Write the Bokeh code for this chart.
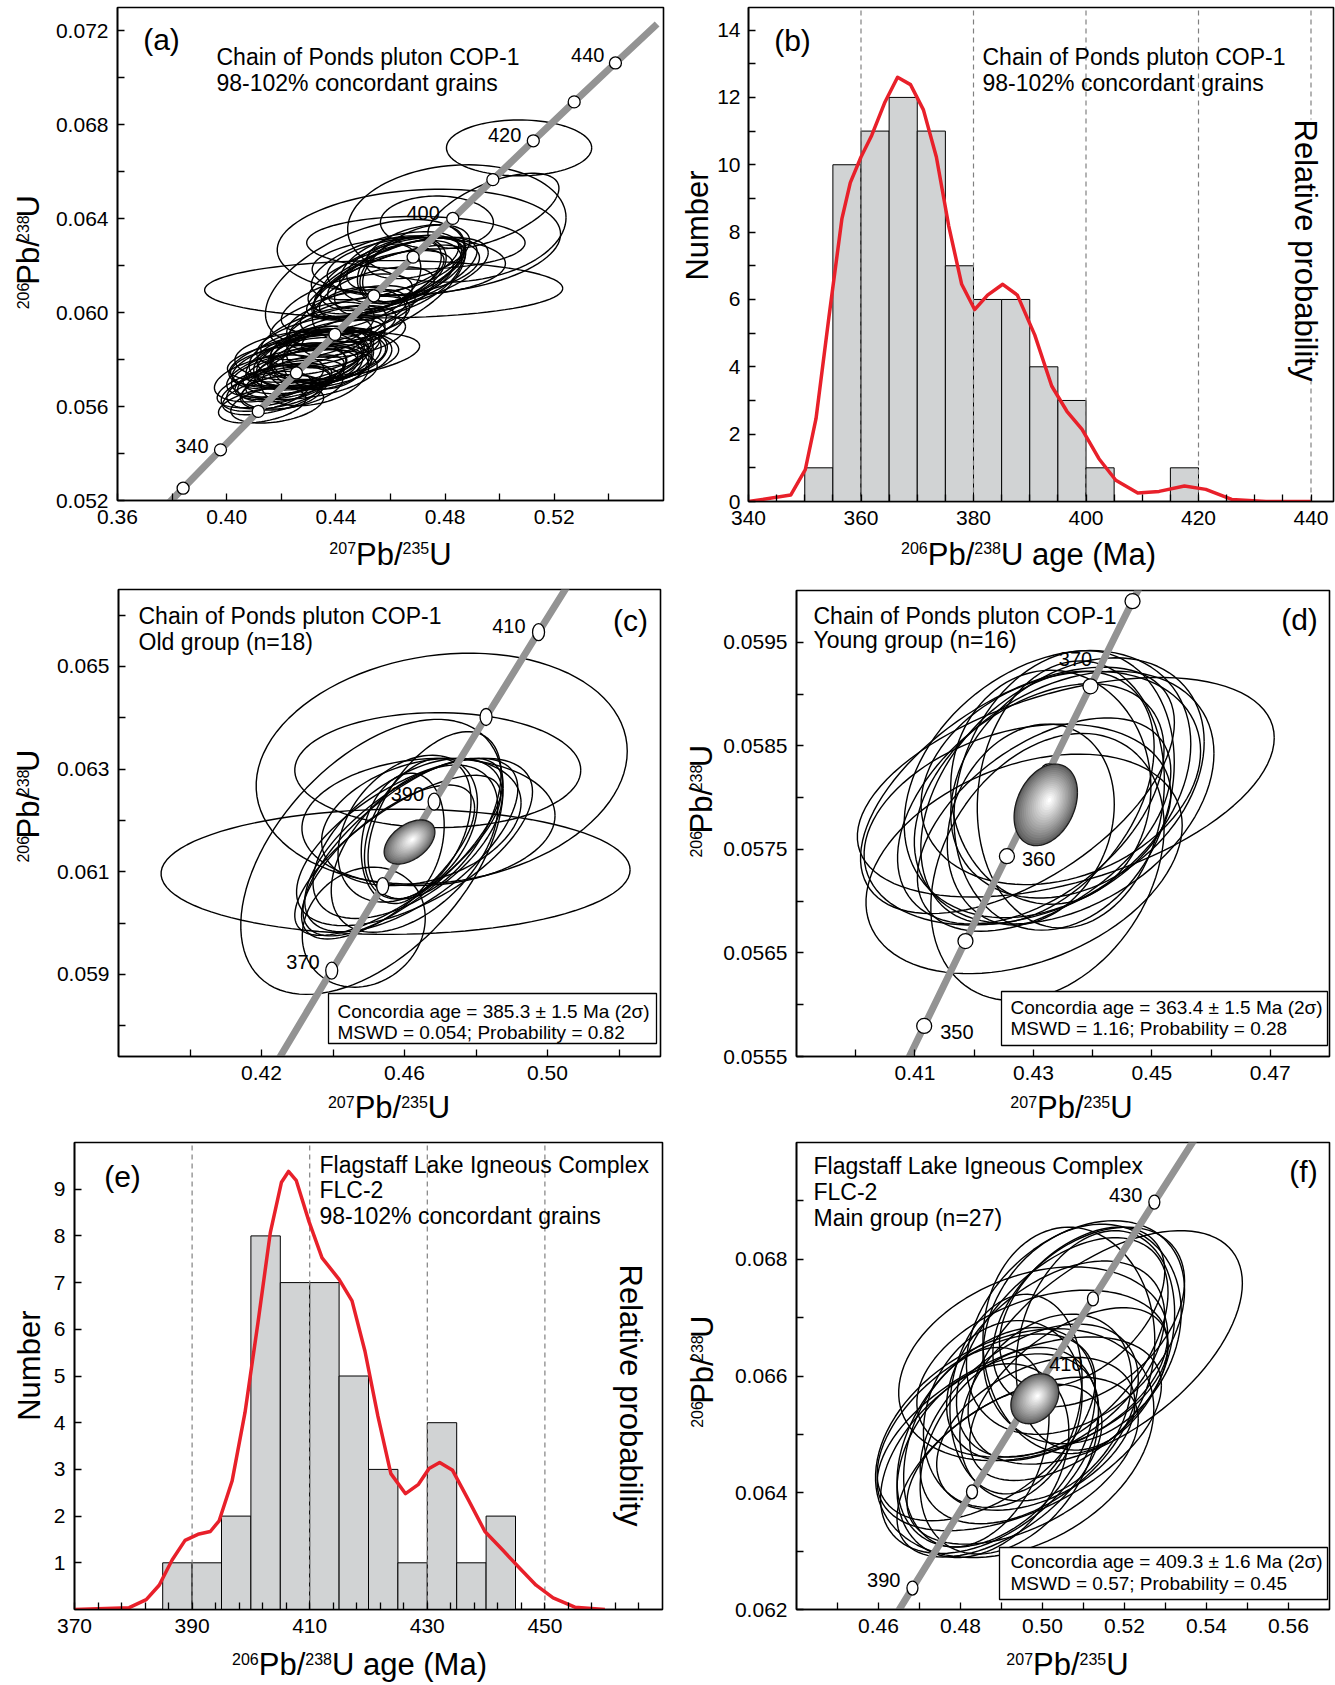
import numpy as np
from bokeh.plotting import figure
from bokeh.models import Range1d, FixedTicker, Label, BoxAnnotation, PrintfTickFormatter
from bokeh.layouts import column, row
from bokeh.embed import file_html
from bokeh.resources import INLINE

FONT = "Liberation Sans"
BAND = "#939393"
BAR_FILL = "#d1d3d4"
RED = "#e8202a"

# ---------------- concordia (age, 207Pb/235U, 206Pb/238U) ----------------
conc_age = [320, 330, 340, 345, 350, 355, 360, 365, 370, 375, 380, 390, 400, 410, 420, 430, 440, 450]
conc_r207 = [0.37047, 0.38403, 0.39773, 0.40463, 0.41156, 0.41853, 0.42553, 0.43257, 0.43964, 0.44674,
             0.45389, 0.46828, 0.48281, 0.49749, 0.51231, 0.52728, 0.54239, 0.55766]
conc_r206 = [0.050893, 0.052524, 0.054158, 0.054976, 0.055795, 0.056615, 0.057434, 0.058254, 0.059075, 0.059897,
             0.060720, 0.062367, 0.064016, 0.065668, 0.067322, 0.068979, 0.070638, 0.072300]

# ---------------- COP-1 old group (n=18): x, y, half-extent x, half-extent y, rho ----------------
old_x = [0.4704, 0.4693, 0.4575, 0.4509, 0.4486, 0.4595, 0.4667, 0.4628, 0.4619, 0.4609, 0.4628, 0.4647,
         0.4609, 0.4595, 0.4637, 0.4581, 0.4684, 0.4554]
old_y = [0.06301, 0.06298, 0.06100, 0.06129, 0.05992, 0.06148, 0.06197, 0.06158, 0.06152, 0.06165, 0.06145,
         0.06197, 0.06184, 0.06165, 0.06184, 0.06132, 0.06210, 0.06119]
old_sx = [0.0519, 0.0400, 0.0656, 0.0367, 0.0172, 0.0279, 0.0354, 0.0330, 0.0298, 0.0265, 0.0233, 0.0279,
          0.0195, 0.0116, 0.0149, 0.0288, 0.0186, 0.0242]
old_sy = [0.00225, 0.00112, 0.00122, 0.00268, 0.00117, 0.00173, 0.00124, 0.00163, 0.00169, 0.00156, 0.00163,
          0.00124, 0.00143, 0.00127, 0.00137, 0.00156, 0.00163, 0.00150]
old_r = [0.15, 0.0, 0.03, 0.5, 0.15, 0.72, 0.1, 0.6, 0.65, 0.55, 0.5, 0.3, 0.35, 0.2, 0.4, 0.75, 0.5, 0.7]
old_conc = (0.4614, 0.06158, 0.0071, 0.00043, 0.45)

# ---------------- COP-1 young group (n=16) ----------------
yng_x = [0.43547, 0.42731, 0.42843, 0.43519, 0.43238, 0.43069, 0.43463, 0.42956, 0.43632, 0.43181, 0.42731,
         0.43294, 0.43238, 0.43519, 0.42956, 0.43744]
yng_y = [0.05810, 0.05774, 0.05736, 0.05807, 0.05813, 0.05800, 0.05819, 0.05794, 0.05803, 0.05774, 0.05807,
         0.05810, 0.05733, 0.05800, 0.05774, 0.05819]
yng_sx = [0.0352, 0.0259, 0.0267, 0.0186, 0.0242, 0.0197, 0.0236, 0.0225, 0.0158, 0.0214, 0.0265, 0.0169,
          0.0197, 0.0253, 0.0141, 0.0214]
yng_sy = [0.00106, 0.00097, 0.00106, 0.00135, 0.00129, 0.00122, 0.00103, 0.00116, 0.00129, 0.00103, 0.00119,
          0.00113, 0.00129, 0.00122, 0.00097, 0.00116]
yng_r = [0.45, 0.3, 0.35, 0.2, 0.3, 0.4, 0.25, 0.45, 0.1, 0.5, 0.55, 0.0, 0.3, 0.35, 0.2, 0.3]
yng_conc = (0.43209, 0.05793, 0.00535, 0.000394, 0.3)

# ---------------- COP-1 remaining concordant grains (shown in panel a) ----------------
oth_x = [0.4130, 0.4165, 0.4190, 0.4210, 0.4175, 0.4230, 0.4200, 0.4250, 0.4155, 0.4270, 0.4220, 0.4185, 0.4290,
         0.4240, 0.4260, 0.4145, 0.4340, 0.4370, 0.4400, 0.4355, 0.4420, 0.4390, 0.4450, 0.4320, 0.4410, 0.4465,
         0.4380, 0.4330, 0.4480, 0.4440, 0.4550, 0.4600, 0.4650, 0.4700, 0.4580, 0.4770, 0.4843, 0.4977, 0.5071]
oth_y = [0.05605, 0.05650, 0.05680, 0.05700, 0.05690, 0.05715, 0.05660, 0.05730, 0.05720, 0.05750, 0.05745,
         0.05610, 0.05770, 0.05680, 0.05785, 0.05665, 0.05830, 0.05870, 0.05900, 0.05915, 0.05935, 0.05850,
         0.05965, 0.05880, 0.05980, 0.05900, 0.05950, 0.05820, 0.06010, 0.06040, 0.06080, 0.06140, 0.06210,
         0.06260, 0.06200, 0.06384, 0.06380, 0.06434, 0.06702]
oth_sx = [0.0160, 0.0180, 0.0190, 0.0170, 0.0210, 0.0200, 0.0150, 0.0180, 0.0200, 0.0210, 0.0220, 0.0170, 0.0190,
          0.0185, 0.0240, 0.0165, 0.0190, 0.0210, 0.0180, 0.0230, 0.0200, 0.0170, 0.0220, 0.0210, 0.0250, 0.0190,
          0.0160, 0.0300, 0.0210, 0.0240, 0.0210, 0.0230, 0.0210, 0.0190, 0.0270, 0.0207, 0.0400, 0.0240, 0.0266]
oth_sy = [0.00075, 0.00085, 0.00090, 0.00080, 0.00095, 0.00085, 0.00075, 0.00090, 0.00100, 0.00095, 0.00105,
          0.00080, 0.00085, 0.00090, 0.00110, 0.00085, 0.00095, 0.00100, 0.00090, 0.00115, 0.00095, 0.00085,
          0.00105, 0.00105, 0.00120, 0.00090, 0.00095, 0.00110, 0.00105, 0.00125, 0.00115, 0.00125, 0.00120,
          0.00115, 0.00145, 0.00113, 0.00250, 0.00160, 0.00119]
oth_r = [0.4, 0.5, 0.45, 0.35, 0.55, 0.5, 0.3, 0.6, 0.4, 0.45, 0.5, 0.35, 0.55, 0.4, 0.5, 0.45, 0.5, 0.55, 0.45,
         0.6, 0.5, 0.4, 0.55, 0.5, 0.6, 0.45, 0.35, 0.2, 0.5, 0.55, 0.5, 0.5, 0.45, 0.4, 0.55, 0.0, 0.1, 0.6, 0.0]

# ---------------- FLC-2 main group (n=27) ----------------
flc_x = [0.51530, 0.49773, 0.50805, 0.50966, 0.50643, 0.51127, 0.50482, 0.51288, 0.50321, 0.50966, 0.50643,
         0.49998, 0.49321, 0.48709, 0.49434, 0.48870, 0.49192, 0.48547, 0.49676, 0.49031, 0.49515, 0.48386,
         0.49837, 0.48950, 0.49354, 0.48628, 0.50079]
flc_y = [0.06649, 0.06621, 0.06683, 0.06672, 0.06661, 0.06701, 0.06649, 0.06661, 0.06626, 0.06718, 0.06569,
         0.06604, 0.06485, 0.06467, 0.06501, 0.06495, 0.06472, 0.06455, 0.06518, 0.06535, 0.06455, 0.06478,
         0.06501, 0.06438, 0.06569, 0.06512, 0.06546]
flc_sx = [0.03345, 0.03281, 0.0266, 0.02418, 0.02096, 0.02338, 0.0258, 0.01935, 0.0266, 0.02015, 0.02418,
          0.03063, 0.03394, 0.0266, 0.03466, 0.02418, 0.02177, 0.02096, 0.0266, 0.01935, 0.02821, 0.01773,
          0.02418, 0.02499, 0.01612, 0.0266, 0.02096]
flc_sy = [0.00200, 0.00166, 0.00183, 0.00188, 0.00194, 0.00154, 0.00188, 0.00188, 0.00171, 0.00137, 0.00148,
          0.00143, 0.00196, 0.00171, 0.00166, 0.00188, 0.00177, 0.00166, 0.00171, 0.00160, 0.00143, 0.00171,
          0.00131, 0.00148, 0.00171, 0.00160, 0.00160]
flc_r = [0.55, 0.3, 0.35, 0.2, 0.0, 0.4, 0.5, 0.25, 0.45, 0.45, 0.55, 0.35, 0.3, 0.45, 0.5, 0.4, 0.35, 0.3,
         0.45, 0.2, 0.5, 0.3, 0.4, 0.55, 0.15, 0.5, 0.3]
flc_conc = (0.49813, 0.06561, 0.00584, 0.000428, 0.25)

# ---------------- histograms ----------------
bins_b = [350, 355, 360, 365, 370, 375, 380, 385, 390, 395, 400, 405, 410, 415]
count_b = [1, 10, 11, 12, 11, 7, 6, 6, 4, 3, 1, 0, 0, 1]
prob_b_age = [340, 347.5, 350.1, 352.0, 354.3, 356.6, 358.1, 360.0, 361.9, 364.2, 366.5, 368.8, 371.1, 373.4,
              375.6, 377.9, 380.2, 382.5, 385.2, 387.8, 390.9, 393.9, 396.6, 399.3, 402.3, 405.3, 409.2, 413.0,
              417.5, 421.3, 425.9, 432.0, 440.0]
prob_b_val = [0, 0.19, 0.95, 2.46, 5.48, 8.39, 9.47, 10.23, 10.87, 11.84, 12.6, 12.38, 11.63, 10.23, 8.18, 6.45,
              5.70, 6.13, 6.45, 6.13, 4.94, 3.43, 2.68, 2.14, 1.27, 0.63, 0.25, 0.30, 0.46, 0.36, 0.06, 0, 0]
dash_b = [360, 380, 400, 420, 440]

bins_e = [385, 390, 395, 400, 405, 410, 415, 420, 425, 430, 435, 440]
count_e = [1, 1, 2, 8, 7, 7, 5, 3, 1, 4, 1, 2]
prob_e_age = [370, 379.3, 382.2, 384.4, 386.6, 388.8, 391.0, 393.1, 394.6, 396.8, 399.0, 401.2, 403.3, 405.2,
              406.4, 407.7, 409.9, 412.1, 415.0, 417.2, 419.4, 421.6, 423.8, 426.3, 428.5, 430.3, 432.1, 434.3,
              436.9, 439.8, 442.7, 445.6, 448.5, 451.4, 455.1, 460.2]
prob_e_val = [0, 0.04, 0.21, 0.52, 1.06, 1.48, 1.61, 1.67, 1.90, 2.75, 4.22, 6.14, 8.07, 9.15, 9.38, 9.19, 8.30,
              7.53, 7.07, 6.61, 5.53, 4.14, 2.91, 2.48, 2.68, 3.02, 3.15, 2.98, 2.37, 1.67, 1.29, 0.90, 0.52,
              0.25, 0.05, 0]
dash_e = [390, 410, 430, 450]

# axis titles: (text, is_superscript)
P207 = [("207", True), ("Pb/", False), ("235", True), ("U", False)]
P206 = [("206", True), ("Pb/", False), ("238", True), ("U", False)]
PAGE = [("206", True), ("Pb/", False), ("238", True), ("U age (Ma)", False)]

ADV = {'0': .556, '1': .556, '2': .556, '3': .556, '4': .556, '5': .556, '6': .556, '7': .556, '8': .556,
       '9': .556, 'P': .667, 'b': .556, '/': .278, 'U': .722, ' ': .278, 'a': .556, 'g': .556, 'e': .556,
       '(': .333, ')': .333, 'M': .833}
MAIN, SUP, LIFT = 31, 16, 11


# ---------------- helpers ----------------
def base_fig(w, h, bl, br, bt, bb, g):
    p = figure(width=w, height=h, x_range=Range1d(*g['x']), y_range=Range1d(*g['y']),
               toolbar_location=None, output_backend="svg", title=None,
               min_border_left=bl, min_border_right=br, min_border_top=bt, min_border_bottom=bb)
    p.grid.visible = False
    p.outline_line_color = "black"
    p.outline_line_width = 1.6
    p.outline_line_alpha = 1.0
    p.background_fill_color = "white"
    p.border_fill_color = "white"
    for ax in (p.xaxis[0], p.yaxis[0]):
        ax.axis_line_color = "black"
        ax.axis_line_width = 1.6
        ax.major_tick_in = 7
        ax.major_tick_out = 0
        ax.minor_tick_in = 7
        ax.minor_tick_out = 0
        ax.major_tick_line_width = 1.3
        ax.minor_tick_line_width = 1.3
        ax.major_tick_line_color = "black"
        ax.minor_tick_line_color = "black"
        ax.major_label_text_font = FONT
        ax.major_label_text_font_size = "21px"
        ax.major_label_text_color = "black"
        ax.major_label_standoff = 9
    return p


def blank_fig(w, h):
    p = figure(width=w, height=h, x_range=Range1d(0, w), y_range=Range1d(0, h),
               toolbar_location=None, output_backend="svg", title=None, min_border=0,
               x_axis_location=None, y_axis_location=None)
    p.grid.visible = False
    p.outline_line_color = None
    p.background_fill_color = "white"
    p.border_fill_color = "white"
    return p


def set_ticks(p, xt, xm, yt, ym, xf, yf):
    p.xaxis[0].ticker = FixedTicker(ticks=xt, minor_ticks=xm)
    p.yaxis[0].ticker = FixedTicker(ticks=yt, minor_ticks=ym)
    p.xaxis[0].formatter = PrintfTickFormatter(format=xf)
    p.yaxis[0].formatter = PrintfTickFormatter(format=yf)


def label(p, x, y, s, size, dx=0, dy=0, align="left", baseline="middle", angle=0.0, bg=None):
    kw = {}
    if bg is not None:
        kw["background_fill_color"] = bg
    p.add_layout(Label(x=x, y=y, x_offset=dx, y_offset=dy, text=s, text_font=FONT,
                       text_font_size=f"{size}px", text_color="black", text_align=align,
                       text_baseline=baseline, angle=angle, **kw))


def ftext(p, g, s, size, dx, dy, corner="tl", **kw):
    x = g['x'][0] if corner in ("tl", "bl") else g['x'][1]
    y = g['y'][1] if corner in ("tl", "tr") else g['y'][0]
    off = -dy if corner in ("tl", "tr") else dy
    label(p, x, y, s, size, dx=dx, dy=off, **kw)


def tw(s, size):
    return sum(ADV[c] for c in s) * size


def mid_shift(size, sup):
    # distance from the main baseline up to the em-box middle of the piece
    return (LIFT if sup else 0) + 0.3465 * size


def comp_h(p, parts, cx, base_y):
    widths = [tw(t, SUP if sup else MAIN) for t, sup in parts]
    x = cx - sum(widths) / 2.0
    for (t, sup), w in zip(parts, widths):
        size = SUP if sup else MAIN
        label(p, x, base_y + mid_shift(size, sup), t, size, baseline="middle")
        x += w


def comp_v(p, parts, base_x, cy):
    widths = [tw(t, SUP if sup else MAIN) for t, sup in parts]
    y = cy - sum(widths) / 2.0
    for (t, sup), w in zip(parts, widths):
        size = SUP if sup else MAIN
        label(p, base_x - mid_shift(size, sup), y, t, size, baseline="middle", angle=np.pi / 2)
        y += w


def ell_xy(x, y, sx, sy, r, n=100):
    t = np.linspace(0, 2 * np.pi, n)
    return (x + sx * np.cos(t)).tolist(), (y + sy * (r * np.cos(t) + np.sqrt(1 - r * r) * np.sin(t))).tolist()


def draw_ellipses(p, X, Y, SX, SY, R):
    xs, ys = [], []
    for a in zip(X, Y, SX, SY, R):
        ex, ey = ell_xy(*a)
        xs.append(ex)
        ys.append(ey)
    p.multi_line(xs, ys, line_color="black", line_width=1.4)


def draw_concordia(p, ages, shape):
    p.line(conc_r207, conc_r206, line_color=BAND, line_width=7, line_cap="butt")
    mx = [conc_r207[conc_age.index(a)] for a in ages]
    my = [conc_r206[conc_age.index(a)] for a in ages]
    if shape[0] == "circle":
        p.scatter(mx, my, size=shape[1], fill_color="white", line_color="black", line_width=1.3)
    else:
        p.ellipse(x=mx, y=my, width=shape[1], height=shape[2], width_units="screen", height_units="screen",
                  fill_color="white", line_color="black", line_width=1.3)


def conc_labels(p, specs):
    for age, dx, dy, align in specs:
        i = conc_age.index(age)
        label(p, conc_r207[i], conc_r206[i], str(age), 20, dx=dx, dy=dy, align=align)


def shaded(p, x, y, sx, sy, r):
    n = 18
    hx, hy = x + 0.12 * sx, y + 0.12 * sy
    xs, ys, cols = [], [], []
    for k in range(n):
        f = 1.0 - k / n
        cx = hx + (x - hx) * f
        cy = hy + (y - hy) * f
        ex, ey = ell_xy(cx, cy, sx * f, sy * f, r)
        xs.append(ex)
        ys.append(ey)
        gval = int(92 + (255 - 92) * (k / (n - 1)) ** 0.85)
        cols.append("#%02x%02x%02x" % (gval, gval, gval))
    p.patches(xs, ys, fill_color=cols, line_color=None)
    ex, ey = ell_xy(x, y, sx, sy, r)
    p.line(ex, ey, line_color="#1a1a1a", line_width=1.3)


def fbox(p, g, l, r, t, b):
    x0, x1 = g['x']
    y0, y1 = g['y']
    p.add_layout(BoxAnnotation(left=x0 + (x1 - x0) * l / g['w'], right=x0 + (x1 - x0) * r / g['w'],
                               top=y1 - (y1 - y0) * t / g['h'], bottom=y1 - (y1 - y0) * b / g['h'],
                               fill_color="white", fill_alpha=1.0, line_color="black", line_width=1.3,
                               line_alpha=1.0))


def cell(yw, hm, total_w, total_h):
    return blank_fig(yw, hm), blank_fig(total_w, total_h - hm)


# ================= (a) =================
GA = dict(x=(0.36, 0.56), y=(0.052, 0.073), w=546, h=493)
pa = base_fig(632, 536, 69, 17, 7, 36, GA)
set_ticks(pa, [0.36, 0.40, 0.44, 0.48, 0.52], [0.38, 0.42, 0.46, 0.50, 0.54],
          [0.052, 0.056, 0.060, 0.064, 0.068, 0.072], [0.054, 0.058, 0.062, 0.066, 0.070], "%.2f", "%.3f")
draw_ellipses(pa, oth_x + old_x + yng_x, oth_y + old_y + yng_y, oth_sx + old_sx + yng_sx,
              oth_sy + old_sy + yng_sy, oth_r + old_r + yng_r)
draw_concordia(pa, [330, 340, 350, 360, 370, 380, 390, 400, 410, 420, 430, 440], ("circle", 12))
conc_labels(pa, [(340, -12, 4, "right"), (400, -13, 5, "right"), (420, -12, 6, "right"), (440, -11, 8, "right")])
ftext(pa, GA, "(a)", 30, 44, 32, align="center")
ftext(pa, GA, "Chain of Ponds pluton COP-1", 23, 99, 49)
ftext(pa, GA, "98-102% concordant grains", 23, 99, 75)
ya, xa = cell(48, 536, 680, 575)
comp_v(ya, P206, 39, 536 - 267)
comp_h(xa, P207, 390, 10.5)

# ================= (b) =================
GB = dict(x=(340, 444), y=(0, 14.67), w=586, h=494)
pb = base_fig(621, 536, 33, 2, 7, 35, GB)
pb.yaxis[0].major_label_standoff = 8
set_ticks(pb, [340, 360, 380, 400, 420, 440], [345, 350, 355, 365, 370, 375, 385, 390, 395, 405, 410, 415, 425, 430, 435],
          [0, 2, 4, 6, 8, 10, 12, 14], [1, 3, 5, 7, 9, 11, 13], "%d", "%d")
pb.quad(left=bins_b, right=[v + 5 for v in bins_b], top=count_b, bottom=0, fill_color=BAR_FILL,
        line_color="black", line_width=1.0)
pb.segment(x0=dash_b, y0=0, x1=dash_b, y1=GB['y'][1], line_color="#808080", line_width=1.2, line_dash="5 4")
pb.line(prob_b_age, prob_b_val, line_color=RED, line_width=3.5, line_join="round")
ftext(pb, GB, "(b)", 30, 44, 33, align="center")
ftext(pb, GB, "Chain of Ponds pluton COP-1", 23, 234, 49)
ftext(pb, GB, "98-102% concordant grains", 23, 234, 75)
ftext(pb, GB, "Relative probability", 31, 557, 243, align="center", angle=-np.pi / 2, bg="white")
yb, xb = cell(34, 536, 655, 575)
label(yb, 17, 536 - 236.5, "Number", 31, align="center", baseline="middle", angle=np.pi / 2)
comp_h(xb, PAGE, 348, 10.5)

# ================= (c) =================
GC = dict(x=(0.38, 0.5316), y=(0.0574, 0.0665), w=542, h=467)
pc = base_fig(632, 515, 70, 20, 14, 34, GC)
set_ticks(pc, [0.42, 0.46, 0.50], [0.40, 0.44, 0.48, 0.52],
          [0.059, 0.061, 0.063, 0.065], [0.058, 0.060, 0.062, 0.064, 0.066], "%.2f", "%.3f")
draw_ellipses(pc, old_x, old_y, old_sx, old_sy, old_r)
draw_concordia(pc, [370, 380, 390, 400, 410], ("ellipse", 12, 17))
shaded(pc, *old_conc)
conc_labels(pc, [(370, -12, 9, "right"), (390, -10, 8, "right"), (410, -13, 6, "right")])
ftext(pc, GC, "Chain of Ponds pluton COP-1", 23, 20, 26)
ftext(pc, GC, "Old group (n=18)", 23, 20, 52)
ftext(pc, GC, "(c)", 30, -30, 31, corner="tr", align="center")
fbox(pc, GC, 210, 538, 404, 454)
ftext(pc, GC, "Concordia age = 385.3 \u00b1 1.5 Ma (2\u03c3)", 19, 219, 422)
ftext(pc, GC, "MSWD = 0.054; Probability = 0.82", 19, 219, 443)
yc, xc = cell(48, 515, 680, 550)
comp_v(yc, P206, 38.7, 515 - 240)
comp_h(xc, P207, 388.6, 7)

# ================= (d) =================
GD = dict(x=(0.39, 0.48), y=(0.0555, 0.0600), w=533, h=466)
pd = base_fig(615, 515, 76, 6, 15, 34, GD)
set_ticks(pd, [0.41, 0.43, 0.45, 0.47], [0.40, 0.42, 0.44, 0.46],
          [0.0555, 0.0565, 0.0575, 0.0585, 0.0595], [0.0560, 0.0570, 0.0580, 0.0590], "%.2f", "%.4f")
draw_ellipses(pd, yng_x, yng_y, yng_sx, yng_sy, yng_r)
draw_concordia(pd, [350, 355, 360, 365, 370, 375], ("circle", 15))
shaded(pd, *yng_conc)
conc_labels(pd, [(370, -15, 27, "center"), (360, 15, -3, "left"), (350, 16, -6, "left")])
ftext(pd, GD, "Chain of Ponds pluton COP-1", 23, 17, 25)
ftext(pd, GD, "Young group (n=16)", 23, 17, 49)
ftext(pd, GD, "(d)", 30, -30, 29, corner="tr", align="center")
fbox(pd, GD, 205, 531, 401, 455)
ftext(pd, GD, "Concordia age = 363.4 \u00b1 1.5 Ma (2\u03c3)", 19, 214, 417)
ftext(pd, GD, "MSWD = 1.16; Probability = 0.28", 19, 214, 438)
yd, xd = cell(40, 515, 655, 550)
comp_v(yd, P206, 31.6, 515 - 234)
comp_h(xd, P207, 391, 7)

# ================= (e) =================
GE = dict(x=(370, 470), y=(0, 10), w=588, h=467)
pe = base_fig(632, 519, 26, 18, 17, 35, GE)
set_ticks(pe, [370, 390, 410, 430, 450], [374, 378, 382, 386, 394, 398, 402, 406, 414, 418, 422, 426, 434, 438,
                                           442, 446, 454, 458, 462, 466],
          [1, 2, 3, 4, 5, 6, 7, 8, 9], [], "%d", "%d")
pe.quad(left=bins_e, right=[v + 5 for v in bins_e], top=count_e, bottom=0, fill_color=BAR_FILL,
        line_color="black", line_width=1.0)
pe.segment(x0=dash_e, y0=0, x1=dash_e, y1=GE['y'][1], line_color="#808080", line_width=1.2, line_dash="5 4")
pe.line(prob_e_age, prob_e_val, line_color=RED, line_width=3.5, line_join="round")
ftext(pe, GE, "(e)", 30, 48, 34, align="center")
ftext(pe, GE, "Flagstaff Lake Igneous Complex", 23, 245, 22)
ftext(pe, GE, "FLC-2", 23, 245, 47)
ftext(pe, GE, "98-102% concordant grains", 23, 245, 73)
ftext(pe, GE, "Relative probability", 31, 556, 253, align="center", angle=-np.pi / 2)
ye, xe = cell(48, 519, 680, 560)
label(ye, 28.5, 519 - 248, "Number", 31, align="center", baseline="middle", angle=np.pi / 2)
comp_h(xe, PAGE, 359, 10)

# ================= (f) =================
GF = dict(x=(0.44, 0.57), y=(0.062, 0.070), w=533, h=467)
pf = base_fig(615, 519, 76, 6, 17, 35, GF)
set_ticks(pf, [0.46, 0.48, 0.50, 0.52, 0.54, 0.56], [0.45, 0.47, 0.49, 0.51, 0.53, 0.55],
          [0.062, 0.064, 0.066, 0.068], [0.063, 0.065, 0.067, 0.069], "%.2f", "%.3f")
draw_ellipses(pf, flc_x, flc_y, flc_sx, flc_sy, flc_r)
draw_concordia(pf, [390, 400, 410, 420, 430], ("ellipse", 11, 14))
shaded(pf, *flc_conc)
conc_labels(pf, [(430, -12, 7, "right"), (390, -12, 8, "right"), (410, 17, 31, "left")])
ftext(pf, GF, "Flagstaff Lake Igneous Complex", 23, 17, 23)
ftext(pf, GF, "FLC-2", 23, 17, 49)
ftext(pf, GF, "Main group (n=27)", 23, 17, 75)
ftext(pf, GF, "(f)", 30, -26, 29, corner="tr", align="center")
fbox(pf, GF, 203, 531, 405, 457)
ftext(pf, GF, "Concordia age = 409.3 \u00b1 1.6 Ma (2\u03c3)", 19, 214, 419)
ftext(pf, GF, "MSWD = 0.57; Probability = 0.45", 19, 214, 441)
yf_, xf_ = cell(40, 519, 655, 560)
comp_v(yf_, P206, 32.7, 519 - 256)
comp_h(xf_, P207, 387, 10)

layout = column(
    row(column(row(ya, pa), xa), column(row(yb, pb), xb)),
    row(column(row(yc, pc), xc), column(row(yd, pd), xd)),
    row(column(row(ye, pe), xe), column(row(yf_, pf), xf_)),
)
open("out.html", "w").write(file_html(layout, INLINE, title="U-Pb concordia and histograms"))
